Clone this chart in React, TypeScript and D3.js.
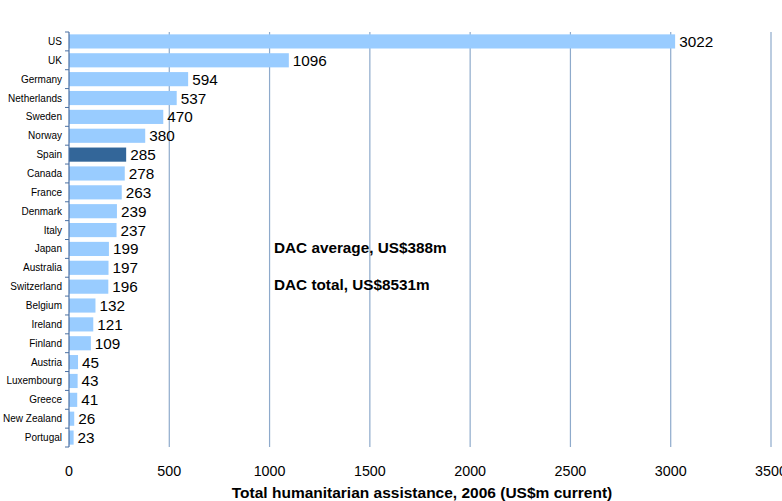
import React from "react";
import * as d3 from "d3";

const categories = ["US","UK","Germany","Netherlands","Sweden","Norway","Spain","Canada","France","Denmark","Italy","Japan","Australia","Switzerland","Belgium","Ireland","Finland","Austria","Luxembourg","Greece","New Zealand","Portugal"];
const values = [3022,1096,594,537,470,380,285,278,263,239,237,199,197,196,132,121,109,45,43,41,26,23];
const xTicks = [0,500,1000,1500,2000,2500,3000,3500];
const highlight = "Spain";
const notes = ["DAC average, US$388m", "DAC total, US$8531m"];
const axisTitle = "Total humanitarian assistance, 2006 (US$m current)";

export default function App() {
  const W = 782, H = 501;
  const left = 69, right = 771, top = 32, bottom = 447;
  const x = d3.scaleLinear().domain([0, 3500]).range([left, right]);
  const y = d3.scaleBand<string>().domain(categories).range([top, bottom]).paddingInner(0.25).paddingOuter(0.125);
  const step = y.step();
  return (
    <svg width={W} height={H} style={{ position: "absolute", left: 0, top: 0, fontFamily: "Arial, 'Liberation Sans', sans-serif" }}>
      <rect width={W} height={H} fill="#fff" />
      {xTicks.filter(t => t > 0).map(t => (
        <line key={t} x1={x(t)} x2={x(t)} y1={top} y2={bottom} stroke="#8eaacb" strokeWidth={1.2} />
      ))}
      {categories.map((c, i) => (
        <g key={c}>
          <rect x={x(0)} y={y(c)!} width={x(values[i]) - x(0)} height={y.bandwidth()} fill={c === highlight ? "#336699" : "#99ccff"} />
          <text x={x(values[i]) + 4} y={y(c)! + y.bandwidth() / 2} dy="0.36em" fontSize={15.3} fill="#000">{values[i]}</text>
          <text x={62} y={y(c)! + y.bandwidth() / 2} dy="0.35em" fontSize={10} textAnchor="end" fill="#000">{c}</text>
        </g>
      ))}
      <line x1={left} x2={left} y1={top} y2={bottom} stroke="#4a70a3" strokeWidth={1.2} />
      {d3.range(categories.length + 1).map(i => (
        <line key={i} x1={left - 4} x2={left} y1={top + i * step} y2={top + i * step} stroke="#4a70a3" strokeWidth={1} />
      ))}
      {xTicks.map(t => (
        <text key={t} x={x(t)} y={476} textAnchor="middle" fontSize={14.3} fill="#000">{t}</text>
      ))}
      <text x={422} y={498} textAnchor="middle" fontSize={15.5} fontWeight="bold">{axisTitle}</text>
      <text x={274} y={253} fontSize={15.3} fontWeight="bold">{notes[0]}</text>
      <text x={274} y={290} fontSize={15.3} fontWeight="bold">{notes[1]}</text>
    </svg>
  );
}
